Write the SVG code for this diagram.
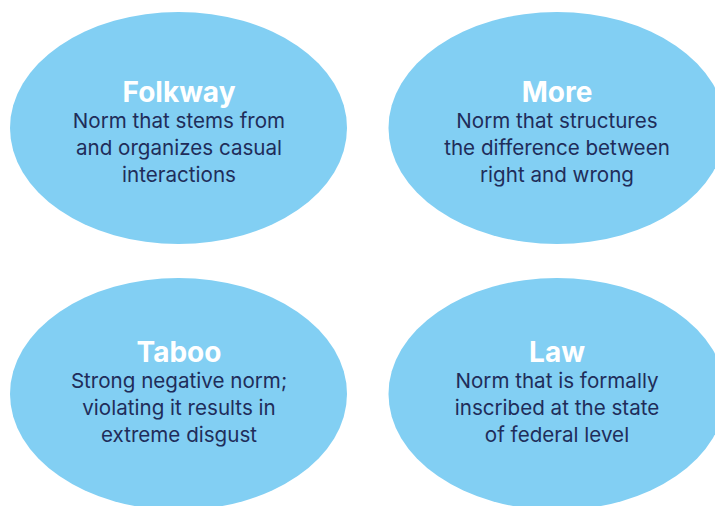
<svg xmlns="http://www.w3.org/2000/svg" width="715" height="506" viewBox="0 0 715 506">
<style>
.e{fill:#82cff3}
.t{font-family:Inter,"Noto Sans",sans-serif;font-weight:bold;font-size:28px;fill:#ffffff;text-anchor:middle}
.b{font-family:Inter,"Noto Sans",sans-serif;font-size:20.6px;fill:#1f2d5a;text-anchor:middle}
</style>
<rect width="715" height="506" fill="#ffffff"/>
<g id="connectors"></g>
<g id="folkway">
<ellipse class="e" cx="178.5" cy="128" rx="168.5" ry="116"/>
<text class="t" x="179" y="102">Folkway</text>
<text class="b" x="179" y="128">Norm that stems from</text>
<text class="b" x="179" y="155">and organizes casual</text>
<text class="b" x="179" y="182">interactions</text>
</g>
<g id="more">
<ellipse class="e" cx="557" cy="128" rx="168.5" ry="116"/>
<text class="t" x="557" y="102">More</text>
<text class="b" x="557" y="128">Norm that structures</text>
<text class="b" x="557" y="155">the difference between</text>
<text class="b" x="557" y="182">right and wrong</text>
</g>
<g id="taboo">
<ellipse class="e" cx="178.5" cy="394" rx="168.5" ry="116"/>
<text class="t" x="179" y="362">Taboo</text>
<text class="b" x="179" y="388">Strong negative norm;</text>
<text class="b" x="179" y="415">violating it results in</text>
<text class="b" x="179" y="442">extreme disgust</text>
</g>
<g id="law">
<ellipse class="e" cx="557" cy="394" rx="168.5" ry="116"/>
<text class="t" x="557" y="362">Law</text>
<text class="b" x="557" y="388">Norm that is formally</text>
<text class="b" x="557" y="415">inscribed at the state</text>
<text class="b" x="557" y="442">of federal level</text>
</g>
</svg>
